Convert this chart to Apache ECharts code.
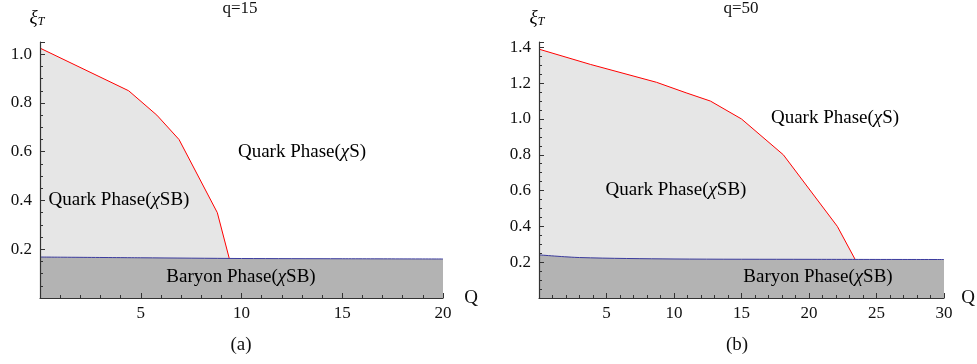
<!DOCTYPE html>
<html>
<head>
<meta charset="utf-8">
<script src="https://cdn.jsdelivr.net/npm/echarts@6/dist/echarts.min.js"></script>
<style>
  html, body { margin: 0; padding: 0; background: #fff; }
  #main { width: 977px; height: 364px; }
</style>
</head>
<body>
<div id="main"></div>
<script>
// (a) q=15 : 相边界
const qA = [0, 4.4, 5.8, 6.9, 8.8, 9.4]
const xiRedA = [1.025, 0.85, 0.75, 0.65, 0.35, 0.16]
const qBlueA = [0, 5, 10, 15, 20]
const xiBlueA = [0.168, 0.165, 0.162, 0.161, 0.16]

// (b) q=50
const qB = [0, 3.8, 8.7, 10.9, 12.7, 15, 18.1, 22.1, 23.4]
const xiRedB = [1.39, 1.305, 1.205, 1.146, 1.1, 1.0, 0.8, 0.4, 0.218]
const qBlueB = [0, 3, 10, 20, 30]
const xiBlueB = [0.241, 0.226, 0.218, 0.216, 0.215]

const serif = 'Liberation Serif'
const axisColor = '#333'

const pairs = (xs, ys) => xs.map((x, i) => [x, ys[i]])

const xAxisCfg = (idx, max) => ({
  type: 'value',
  gridIndex: idx,
  min: 0,
  max,
  interval: 5,
  z: 10,
  axisLine: { show: true, lineStyle: { color: axisColor, width: 1.2 } },
  axisTick: { show: true, inside: true, length: 5, lineStyle: { color: axisColor, width: 1 } },
  minorTick: { show: true, splitNumber: 5, length: 3, lineStyle: { color: axisColor, width: 1 } },
  splitLine: { show: false },
  axisLabel: {
    color: '#111', fontFamily: serif, fontSize: 17, margin: 7,
    formatter: v => (v === 0 ? '' : String(v))
  }
})

const yAxisCfg = (idx, max) => ({
  type: 'value',
  gridIndex: idx,
  min: 0,
  max,
  interval: 0.2,
  z: 10,
  axisLine: { show: true, lineStyle: { color: axisColor, width: 1.2 } },
  axisTick: { show: true, inside: true, length: 5, lineStyle: { color: axisColor, width: 1 } },
  minorTick: { show: true, splitNumber: 4, length: 3, lineStyle: { color: axisColor, width: 1 } },
  splitLine: { show: false },
  axisLabel: {
    color: '#111', fontFamily: serif, fontSize: 17, margin: 8,
    // 只显示 0.2 的整数倍, 0 和最大值不显示
    formatter: v => {
      const k = Math.round(v / 0.2)
      return (k === 0 || Math.abs(v - k * 0.2) > 1e-6) ? '' : v.toFixed(1)
    }
  }
})

const redSeries = (idx, data) => ({
  type: 'line',
  xAxisIndex: idx,
  yAxisIndex: idx,
  data,
  symbol: 'none',
  lineStyle: { color: '#ff0000', width: 1 },
  areaStyle: { color: '#e6e6e6', opacity: 1 }
})

const blueSeries = (idx, data) => ({
  type: 'line',
  xAxisIndex: idx,
  yAxisIndex: idx,
  data,
  symbol: 'none',
  smooth: 0.3,
  lineStyle: { color: '#3b3b9e', width: 1 },
  areaStyle: { color: '#b3b3b3', opacity: 1 }
})

const rich = {
  n: { fontFamily: serif, fontSize: 19, color: '#111' },
  i: { fontFamily: serif, fontSize: 19, fontStyle: 'italic', color: '#111' }
}
const phase = (x, y, parts) => ({
  type: 'text',
  x, y, z: 10,
  style: { text: parts, rich, align: 'center', verticalAlign: 'middle' }
})
const plain = (x, y, t, size) => ({
  type: 'text',
  x, y, z: 10,
  style: {
    text: t, fill: '#111',
    font: size + 'px "Liberation Serif"',
    align: 'center', verticalAlign: 'middle'
  }
})
const xiLabel = (x, y) => ({
  type: 'text',
  x, y, z: 10,
  style: {
    text: '{a|ξ}{b|T}',
    rich: {
      a: { fontFamily: serif, fontSize: 19, fontStyle: 'italic', color: '#111' },
      b: { fontFamily: serif, fontSize: 12, fontStyle: 'italic', color: '#111', padding: [8, 0, 0, 0] }
    },
    align: 'center', verticalAlign: 'middle'
  }
})

const myChart = echarts.init(document.querySelector('#main'))
const option = {
  animation: false,
  grid: [
    { left: 40, top: 42, width: 403, height: 256 },
    { left: 539, top: 42, width: 405, height: 256 }
  ],
  xAxis: [xAxisCfg(0, 20), xAxisCfg(1, 30)],
  yAxis: [yAxisCfg(0, 1.05), yAxisCfg(1, 1.43)],
  series: [
    redSeries(0, pairs(qA, xiRedA)),
    blueSeries(0, pairs(qBlueA, xiBlueA)),
    redSeries(1, pairs(qB, xiRedB)),
    blueSeries(1, pairs(qBlueB, xiBlueB))
  ],
  graphic: [
    plain(240, 9, 'q=15', 17),
    plain(741, 9, 'q=50', 17),
    xiLabel(37, 18),
    xiLabel(537, 18),
    plain(471, 298, 'Q', 19),
    plain(968, 298, 'Q', 19),
    plain(241, 345, '(a)', 19),
    plain(737, 345, '(b)', 19),
    phase(302, 152, '{n|Quark Phase(}{i|χ}{n|S)}'),
    phase(119, 200, '{n|Quark Phase(}{i|χ}{n|SB)}'),
    phase(241, 277, '{n|Baryon Phase(}{i|χ}{n|SB)}'),
    phase(835, 118, '{n|Quark Phase(}{i|χ}{n|S)}'),
    phase(676, 190, '{n|Quark Phase(}{i|χ}{n|SB)}'),
    phase(818, 277, '{n|Baryon Phase(}{i|χ}{n|SB)}')
  ]
}
myChart.setOption(option)
</script>
</body>
</html>
